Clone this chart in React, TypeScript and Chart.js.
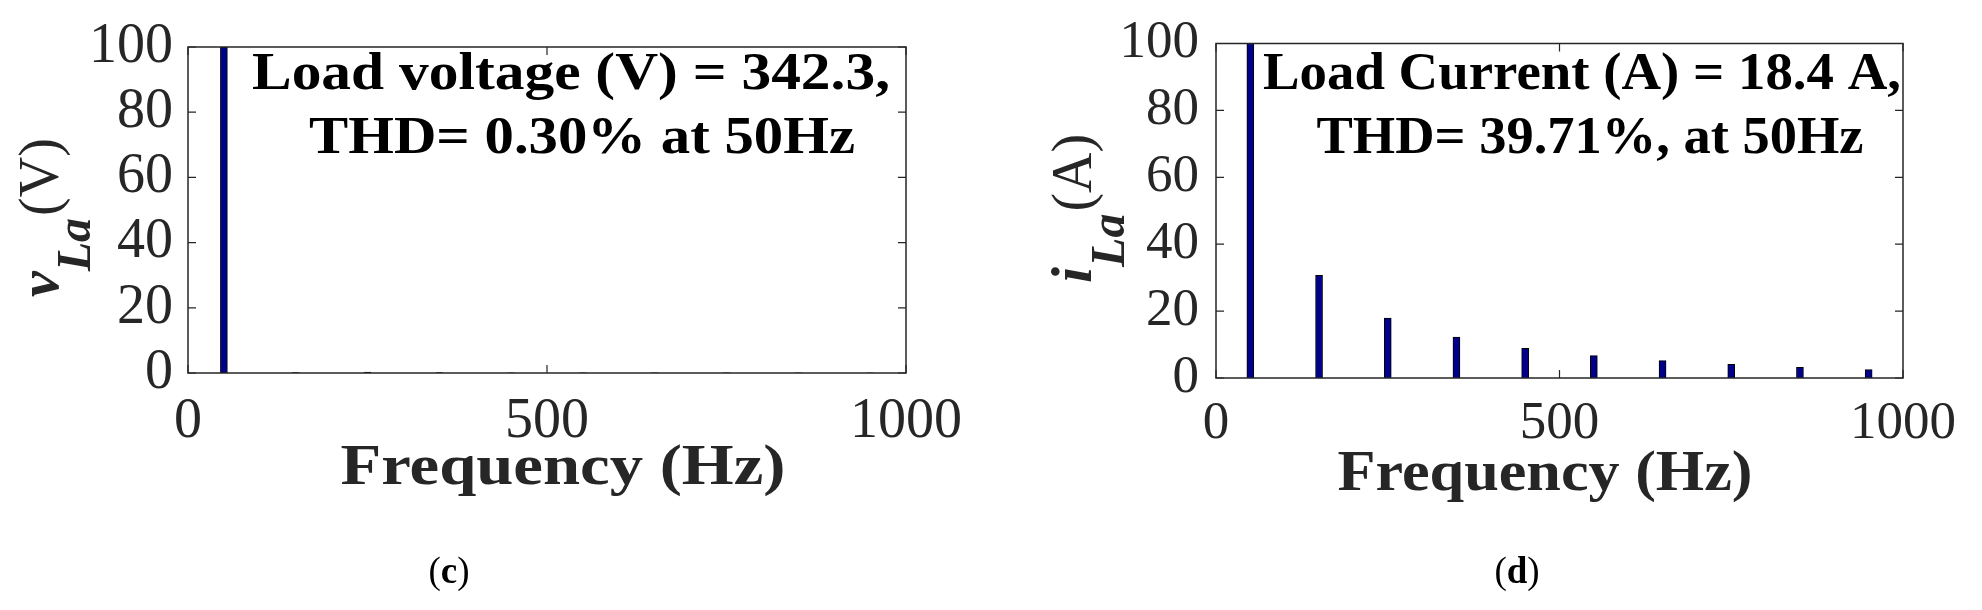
import React, { useEffect, useRef } from "react";
import { Chart, registerables } from "chart.js";

Chart.register(...registerables);

// ---------------- data ----------------
const harmonicFrequencies = [50, 150, 250, 350, 450, 550, 650, 750, 850, 950];
const loadVoltageSpectrum = [100, 0.1, 0.25, 0.15, 0.05, 0.05, 0.04, 0.03, 0.03, 0.02];
const loadCurrentSpectrum = [100, 30.7, 17.9, 12.2, 8.9, 6.7, 5.2, 4.1, 3.2, 2.5];
const xTickValues = [0, 500, 1000];
const yTickValues = [0, 20, 40, 60, 80, 100];
const xAxisTitle = "Frequency (Hz)";
const voltageNote = ["Load voltage (V) = 342.3,", "THD= 0.30% at 50Hz"];
const currentNote = ["Load Current (A) = 18.4 A,", "THD= 39.71%, at 50Hz"];
const voltageYLabel = ["v", "La", "(V)"];
const currentYLabel = ["i", "La", "(A)"];
const panelLetters = ["c", "d"];

// ---------------- layout ----------------
const H = 610;
const SERIF = '"Liberation Serif", "Times New Roman", serif';

const panels = [
  {
    left: 0,
    width: 990,
    values: loadVoltageSpectrum,
    note: voltageNote,
    yLabel: voltageYLabel,
    letter: panelLetters[0],
    area: { left: 188, right: 906, top: 47, bottom: 373 },
    tickFont: 56,
    yPad: 15,
    xPad: 21,
    notePos: [
      { cx: 571, base: 89, w: 638 },
      { cx: 582, base: 153, w: 546 },
    ],
    titlePos: { cx: 563, base: 484, w: 445 },
    yTitlePos: { x: 58, y: 297, sub: 32 },
    capPos: { cx: 449, base: 583 },
  },
  {
    left: 990,
    width: 992,
    values: loadCurrentSpectrum,
    note: currentNote,
    yLabel: currentYLabel,
    letter: panelLetters[1],
    area: { left: 226, right: 913, top: 43, bottom: 378 },
    tickFont: 53,
    yPad: 17,
    xPad: 20,
    notePos: [
      { cx: 592, base: 89, w: 638 },
      { cx: 600, base: 153, w: 547 },
    ],
    titlePos: { cx: 555, base: 490, w: 415 },
    yTitlePos: { x: 101, y: 283, sub: 33 },
    capPos: { cx: 527, base: 583 },
  },
];

function drawFitted(ctx: CanvasRenderingContext2D, text: string, cx: number, base: number, font: string, width: number, color: string) {
  ctx.save();
  ctx.font = font;
  ctx.fillStyle = color;
  ctx.textAlign = "center";
  ctx.textBaseline = "alphabetic";
  const w = ctx.measureText(text).width;
  ctx.translate(cx, base);
  ctx.scale(width / w, 1);
  ctx.fillText(text, 0, 0);
  ctx.restore();
}

function makeDecor(p: any) {
  return {
    id: "decor" + p.letter,
    afterDatasetsDraw(chart: any) {
      const { ctx, chartArea: a, scales } = chart;
      ctx.save();
      // axes box
      ctx.strokeStyle = "#262626";
      ctx.lineWidth = 1.5;
      ctx.strokeRect(a.left, a.top, a.right - a.left, a.bottom - a.top);
      // inward tick marks on all four sides
      ctx.lineWidth = 1.2;
      ctx.beginPath();
      yTickValues.forEach((v) => {
        const y = scales.y.getPixelForValue(v);
        ctx.moveTo(a.left, y);
        ctx.lineTo(a.left + 8, y);
        ctx.moveTo(a.right, y);
        ctx.lineTo(a.right - 8, y);
      });
      xTickValues.forEach((v) => {
        const x = scales.x.getPixelForValue(v);
        ctx.moveTo(x, a.bottom);
        ctx.lineTo(x, a.bottom - 8);
        ctx.moveTo(x, a.top);
        ctx.lineTo(x, a.top + 8);
      });
      ctx.stroke();
      ctx.restore();

      // annotation
      p.note.forEach((line: string, i: number) => {
        const pos = p.notePos[i];
        drawFitted(ctx, line, pos.cx, pos.base, `bold 52px ${SERIF}`, pos.w, "#000000");
      });

      // x-axis title
      drawFitted(ctx, xAxisTitle, p.titlePos.cx, p.titlePos.base, `bold 57px ${SERIF}`, p.titlePos.w, "#262626");

      // y-axis title (rotated, with subscript)
      const yt = p.yTitlePos;
      ctx.save();
      ctx.translate(yt.x, yt.y);
      ctx.rotate(-Math.PI / 2);
      ctx.fillStyle = "#262626";
      ctx.textAlign = "left";
      ctx.textBaseline = "alphabetic";
      ctx.font = `italic bold 58px ${SERIF}`;
      ctx.fillText(p.yLabel[0], 0, 0);
      let adv = ctx.measureText(p.yLabel[0]).width;
      ctx.font = `italic bold 48px ${SERIF}`;
      ctx.fillText(p.yLabel[1], adv, yt.sub);
      adv += ctx.measureText(p.yLabel[1]).width + 2;
      ctx.font = `56px ${SERIF}`;
      ctx.fillText(p.yLabel[2], adv, 0);
      ctx.restore();

      // caption "(c)" / "(d)"
      ctx.save();
      ctx.fillStyle = "#000000";
      ctx.textBaseline = "alphabetic";
      ctx.textAlign = "left";
      const reg = `37px ${SERIF}`;
      const bold = `bold 37px ${SERIF}`;
      ctx.font = reg;
      const wo = ctx.measureText("(").width;
      const wc = ctx.measureText(")").width;
      ctx.font = bold;
      const wl = ctx.measureText(p.letter).width;
      let x = p.capPos.cx - (wo + wl + wc) / 2;
      ctx.font = reg;
      ctx.fillText("(", x, p.capPos.base);
      x += wo;
      ctx.font = bold;
      ctx.fillText(p.letter, x, p.capPos.base);
      x += wl;
      ctx.font = reg;
      ctx.fillText(")", x, p.capPos.base);
      ctx.restore();
    },
  };
}

function makeChart(canvas: HTMLCanvasElement, p: any) {
  return new Chart(canvas, {
    type: "bar",
    data: {
      datasets: [
        {
          data: harmonicFrequencies.map((f, i) => ({ x: f, y: p.values[i] })),
          backgroundColor: "#00008B",
          borderColor: "#000000",
          borderWidth: 1,
          barThickness: 7,
        },
      ],
    },
    options: {
      responsive: false,
      animation: false,
      devicePixelRatio: 1,
      layout: {
        padding: { left: 0, top: p.area.top, right: p.width - p.area.right, bottom: 0 },
      },
      plugins: { legend: { display: false }, tooltip: { enabled: false } },
      scales: {
        x: {
          type: "linear",
          min: 0,
          max: 1000,
          offset: false,
          grid: { display: false, drawTicks: false },
          border: { display: false },
          afterBuildTicks: (s: any) => {
            s.ticks = xTickValues.map((v) => ({ value: v }));
          },
          afterFit: (s: any) => {
            s.height = H - p.area.bottom;
          },
          ticks: {
            autoSkip: false,
            maxRotation: 0,
            minRotation: 0,
            padding: p.xPad,
            color: "#262626",
            font: { family: SERIF, size: p.tickFont, lineHeight: 1 },
            callback: (v: any) => String(v),
          },
        },
        y: {
          type: "linear",
          min: 0,
          max: 100,
          grid: { display: false, drawTicks: false },
          border: { display: false },
          afterBuildTicks: (s: any) => {
            s.ticks = yTickValues.map((v) => ({ value: v }));
          },
          afterFit: (s: any) => {
            s.width = p.area.left;
          },
          ticks: {
            autoSkip: false,
            padding: p.yPad,
            color: "#262626",
            font: { family: SERIF, size: p.tickFont, lineHeight: 1 },
            callback: (v: any) => String(v),
          },
        },
      },
    } as any,
    plugins: [makeDecor(p)],
  });
}

export default function App() {
  const leftRef = useRef<HTMLCanvasElement>(null);
  const rightRef = useRef<HTMLCanvasElement>(null);

  useEffect(() => {
    const charts: Chart[] = [];
    if (leftRef.current) charts.push(makeChart(leftRef.current, panels[0]));
    if (rightRef.current) charts.push(makeChart(rightRef.current, panels[1]));
    return () => charts.forEach((c) => c.destroy());
  }, []);

  return (
    <div style={{ position: "relative", width: 1982, height: H, background: "#ffffff" }}>
      <style>{"html,body{margin:0;padding:0;background:#ffffff;}"}</style>
      <canvas
        ref={leftRef}
        width={panels[0].width}
        height={H}
        style={{ position: "absolute", left: panels[0].left, top: 0, width: panels[0].width, height: H }}
      />
      <canvas
        ref={rightRef}
        width={panels[1].width}
        height={H}
        style={{ position: "absolute", left: panels[1].left, top: 0, width: panels[1].width, height: H }}
      />
    </div>
  );
}
